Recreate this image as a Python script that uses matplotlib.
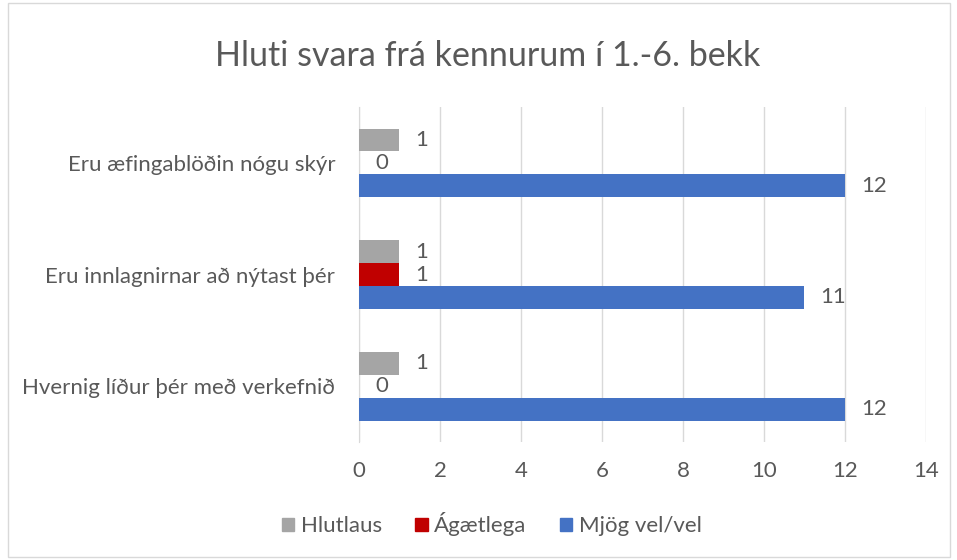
import numpy as np
import matplotlib.pyplot as plt
from matplotlib.patches import Patch

categories = ["Hvernig líður þér með verkefnið",
              "Eru innlagnirnar að nýtast þér",
              "Eru æfingablöðin nógu skýr"]
hlutlaus = [1, 1, 1]
agaetlega = [0, 1, 0]
mjog_vel = [12, 11, 12]
series_names = ["Hlutlaus", "Ágætlega", "Mjög vel/vel"]
colors = ["#A5A5A5", "#C00000", "#4472C4"]
xticks = [0, 2, 4, 6, 8, 10, 12, 14]

plt.rcParams['font.family'] = ['Lato', 'DejaVu Sans']
txt = "#595959"
fs = 16

fig = plt.figure(figsize=(9.57, 5.6), dpi=100)
ax = fig.add_axes([0.3751, 0.2107, 0.5925, 0.5982])

y = np.arange(len(categories))
h = 0.205
offsets = [h, 0, -h]
for vals, off, c in zip([hlutlaus, agaetlega, mjog_vel], offsets, colors):
    ax.barh(y + off, vals, height=h, color=c, zorder=3)
    for yi, v in zip(y, vals):
        ax.text(v + 0.4, yi + off, str(v), va='center', ha='left',
                fontsize=fs, color=txt)

ax.set_xlim(0, 14)
ax.set_ylim(-0.5, 2.5)
ax.set_xticks(xticks)
ax.set_yticks(y)
ax.set_yticklabels(categories)
ax.tick_params(axis='both', length=0, labelsize=fs, colors=txt)
ax.tick_params(axis='x', pad=14)
ax.tick_params(axis='y', pad=17)
ax.grid(axis='x', color='#D9D9D9', linewidth=1, zorder=0)
for s in ['top', 'right', 'bottom']:
    ax.spines[s].set_visible(False)
ax.spines['left'].set_color('#D9D9D9')

fig.text(0.51, 0.90, "Hluti svara frá kennurum í 1.-6. bekk",
         ha='center', va='center', fontsize=24.5, color=txt)

handles = [Patch(color=c) for c in colors]
fig.legend(handles, series_names, loc='center', bbox_to_anchor=(0.514, 0.064),
           ncol=3, frameon=False, fontsize=fs, labelcolor=txt,
           handlelength=0.55, handleheight=0.55, columnspacing=1.5, handletextpad=0.3)

fig.patches.append(plt.Rectangle((0.008, 0.005), 0.985, 0.99, transform=fig.transFigure,
                                 fill=False, edgecolor='#D9D9D9', linewidth=1))

fig.savefig("out.png", dpi=100)
